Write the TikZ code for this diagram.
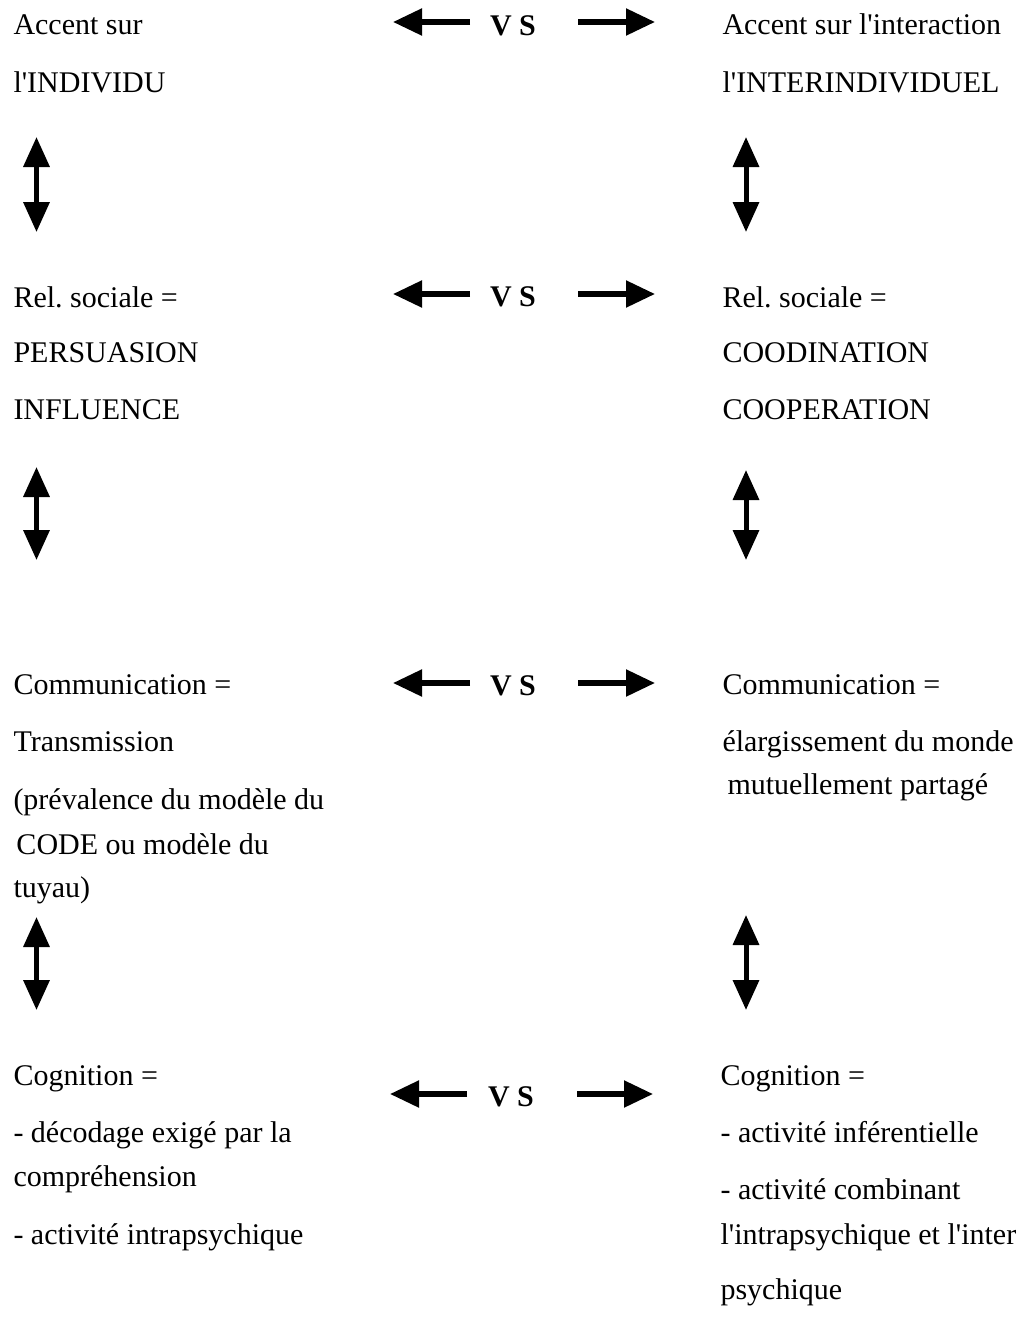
\documentclass[tikz,border=0pt]{standalone}
\usepackage{fontspec}
\setmainfont{Liberation Serif}[Ligatures=TeXOff]
\usetikzlibrary{arrows.meta}
\frenchspacing

\tikzset{
    txt/.style={anchor=base west, inner sep=0pt, font=\fontsize{12}{14}\selectfont},
    vstxt/.style={anchor=base, inner sep=0pt, font=\fontsize{12}{14}\selectfont\bfseries},
    harrow/.style={line width=2.1pt, -{Triangle[length=11.6pt, width=10.4pt]}},
    varrow/.style={line width=2pt, {Triangle[length=12pt, width=10.2pt]}-{Triangle[length=12pt, width=10.2pt]}}
}

\begin{document}
\begin{tikzpicture}[x=0.4pt, y=-0.4pt]
        \useasboundingbox (0, 0) rectangle (1019, 1326);
        % left column
        \node[txt] (l1a) at (13, 34) {Accent sur};
        \node[txt] (l1b) at (13, 92) {l'INDIVIDU};
        \node[txt] (l2a) at (13, 307) {Rel. sociale =};
        \node[txt] (l2b) at (13, 362) {PERSUASION};
        \node[txt] (l2c) at (13, 419) {INFLUENCE};
        \node[txt] (l3a) at (13, 694) {Communication =};
        \node[txt] (l3b) at (13, 751) {Transmission};
        \node[txt] (l3c) at (13, 809) {(prévalence du modèle du};
        \node[txt] (l3d) at (16, 854) {CODE ou modèle du};
        \node[txt] (l3e) at (13, 897) {tuyau)};
        \node[txt] (l4a) at (13, 1085) {Cognition =};
        \node[txt] (l4b) at (13, 1142) {- décodage exigé par la};
        \node[txt] (l4c) at (13, 1186) {compréhension};
        \node[txt] (l4d) at (13, 1244) {- activité intrapsychique};
        % right column
        \node[txt] (r1a) at (722, 34) {Accent sur l'interaction};
        \node[txt] (r1b) at (722, 92) {l'INTERINDIVIDUEL};
        \node[txt] (r2a) at (722, 307) {Rel. sociale =};
        \node[txt] (r2b) at (722, 362) {COODINATION};
        \node[txt] (r2c) at (722, 419) {COOPERATION};
        \node[txt] (r3a) at (722, 694) {Communication =};
        \node[txt] (r3b) at (722, 751) {élargissement du monde};
        \node[txt] (r3c) at (727, 794) {mutuellement partagé};
        \node[txt] (r4a) at (720, 1085) {Cognition =};
        \node[txt] (r4b) at (720, 1142) {- activité inférentielle};
        \node[txt] (r4c) at (720, 1199) {- activité combinant};
        \node[txt] (r4d) at (720, 1244) {l'intrapsychique et l'inter};
        \node[txt] (r4e) at (720, 1299) {psychique};
        % VS in the middle
        \node[vstxt] (vs1) at (513, 35) {V S};
        \node[vstxt] (vs2) at (513, 306) {V S};
        \node[vstxt] (vs3) at (513, 695) {V S};
        \node[vstxt] (vs4) at (511, 1106) {V S};
        \coordinate (h1a) at (470, 22); \coordinate (h1b) at (393, 22);
        \coordinate (h1c) at (578, 22); \coordinate (h1d) at (655, 22);
        \coordinate (h2a) at (470, 294); \coordinate (h2b) at (393, 294);
        \coordinate (h2c) at (578, 294); \coordinate (h2d) at (655, 294);
        \coordinate (h3a) at (470, 683); \coordinate (h3b) at (393, 683);
        \coordinate (h3c) at (578, 683); \coordinate (h3d) at (655, 683);
        \coordinate (h4a) at (467, 1094); \coordinate (h4b) at (390, 1094);
        \coordinate (h4c) at (577, 1094); \coordinate (h4d) at (653, 1094);
        \draw[harrow] (h1a) -- (h1b);
        \draw[harrow] (h1c) -- (h1d);
        \draw[harrow] (h2a) -- (h2b);
        \draw[harrow] (h2c) -- (h2d);
        \draw[harrow] (h3a) -- (h3b);
        \draw[harrow] (h3c) -- (h3d);
        \draw[harrow] (h4a) -- (h4b);
        \draw[harrow] (h4c) -- (h4d);
        % up and down arrows
        \coordinate (v1a) at (36.5, 137); \coordinate (v1b) at (36.5, 232);
        \coordinate (v2a) at (746, 137); \coordinate (v2b) at (746, 232);
        \coordinate (v3a) at (36.5, 467); \coordinate (v3b) at (36.5, 560);
        \coordinate (v4a) at (746, 470); \coordinate (v4b) at (746, 560);
        \coordinate (v5a) at (36.5, 917); \coordinate (v5b) at (36.5, 1010);
        \coordinate (v6a) at (746, 915); \coordinate (v6b) at (746, 1010);
        \draw[varrow] (v1a) -- (v1b);
        \draw[varrow] (v2a) -- (v2b);
        \draw[varrow] (v3a) -- (v3b);
        \draw[varrow] (v4a) -- (v4b);
        \draw[varrow] (v5a) -- (v5b);
        \draw[varrow] (v6a) -- (v6b);
    \end{tikzpicture}
\end{document}
